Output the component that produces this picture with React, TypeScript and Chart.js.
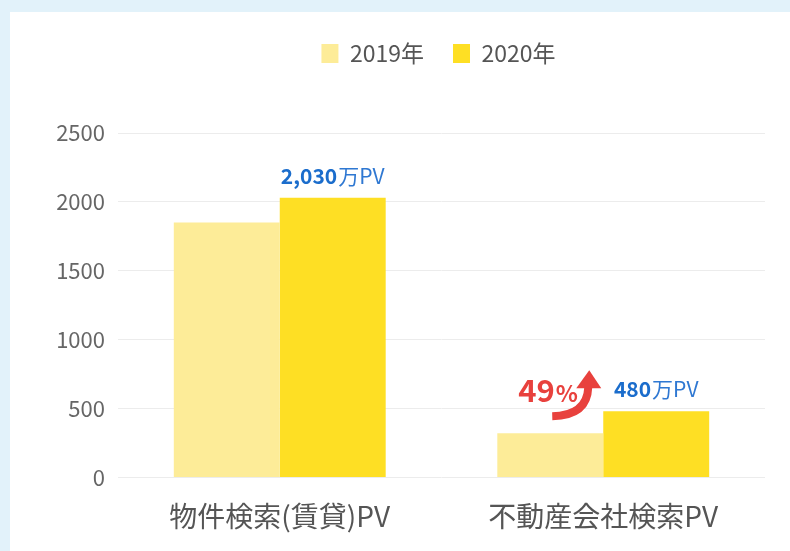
import React, { useEffect, useRef } from "react";
import { Chart, registerables } from "chart.js";

Chart.register(...registerables);

const categories = ["物件検索(賃貸)PV", "不動産会社検索PV"];
const seriesNames = ["2019年", "2020年"];
const values2019 = [1850, 320];
const values2020 = [2030, 480];
const yTicks = [0, 500, 1000, 1500, 2000, 2500];
const valueSuffix = "万PV";
const growthNumber = "49";
const growthUnit = "%";

const FONT = '"Noto Sans CJK JP", "Noto Sans", sans-serif';
const COLOR_2019 = "#fdec98";
const COLOR_2020 = "#fedf24";
const BLUE = "#1b6dcc";
const RED = "#e8413d";

const legendSpace = {
  id: "legendSpace",
  beforeLayout(chart: any) {
    const lg = chart.legend;
    if (lg && !lg.__patched) {
      const orig = lg.fit.bind(lg);
      lg.fit = function () {
        orig();
        this.height = 120;
      };
      lg.__patched = true;
    }
  },
  afterLayout(chart: any) {
    const lg = chart.legend;
    if (lg) {
      // centre the legend over the plot area rather than the whole canvas
      const ca = chart.chartArea;
      const shift = (ca.left + ca.right) / 2 - (lg.left + lg.right) / 2;
      lg.left += shift * 2 - 6;
    }
  },
};

const annotate = {
  id: "annotate",
  afterDatasetsDraw(chart: any) {
    const ctx = chart.ctx as CanvasRenderingContext2D;
    const m0 = chart.getDatasetMeta(0);
    const m1 = chart.getDatasetMeta(1);
    ctx.save();
    ctx.textBaseline = "middle";
    ctx.textAlign = "left";
    m1.data.forEach((bar: any, i: number) => {
      const num = values2020[i].toLocaleString("en-US");
      const bold = `bold 21px ${FONT}`;
      const normal = `21px ${FONT}`;
      ctx.font = bold;
      const w1 = ctx.measureText(num).width;
      ctx.font = normal;
      const w2 = ctx.measureText(valueSuffix).width;
      const x0 = bar.x - (w1 + w2 + 1) / 2;
      const y = bar.y - 22;
      ctx.fillStyle = BLUE;
      ctx.font = bold;
      ctx.fillText(num, x0, y);
      ctx.font = normal;
      ctx.fillStyle = "#2f78d2";
      ctx.fillText(valueSuffix, x0 + w1 + 1, y);
    });

    // growth arrow between the second group's bars
    const b19 = m0.data[1];
    const b20 = m1.data[1];
    const X = b20.x - b20.width / 2;
    const Y = b19.y;
    ctx.strokeStyle = RED;
    ctx.fillStyle = RED;
    ctx.lineWidth = 8;
    ctx.lineCap = "butt";
    ctx.beginPath();
    ctx.moveTo(X - 51, Y - 17);
    ctx.quadraticCurveTo(X - 16, Y - 18, X - 15, Y - 46);
    ctx.stroke();
    ctx.beginPath();
    ctx.moveTo(X - 14, Y - 63);
    ctx.lineTo(X - 27, Y - 45);
    ctx.lineTo(X - 2, Y - 45);
    ctx.closePath();
    ctx.fill();

    ctx.textBaseline = "alphabetic";
    ctx.font = `bold 31px ${FONT}`;
    const gx = X - 85;
    const gy = Y - 31;
    ctx.fillText(growthNumber, gx, gy);
    const gw = ctx.measureText(growthNumber).width;
    ctx.font = `bold 23px ${FONT}`;
    ctx.fillText(growthUnit, gx + gw + 1, gy);
    ctx.restore();
  },
};

export default function App() {
  const ref = useRef<HTMLCanvasElement | null>(null);
  useEffect(() => {
    if (!ref.current) return;
    const chart = new Chart(ref.current, {
      type: "bar",
      data: {
        labels: categories,
        datasets: [
          {
            label: seriesNames[0],
            data: values2019,
            backgroundColor: COLOR_2019,
            categoryPercentage: 0.655,
            barPercentage: 1,
          },
          {
            label: seriesNames[1],
            data: values2020,
            backgroundColor: COLOR_2020,
            categoryPercentage: 0.655,
            barPercentage: 1,
          },
        ],
      },
      options: {
        responsive: false,
        animation: false,
        layout: { padding: { top: 13, right: 25, bottom: 4, left: 0 } },
        plugins: {
          legend: {
            display: true,
            position: "top",
            labels: {
              boxWidth: 17,
              boxHeight: 19,
              padding: 29,
              color: "#555555",
              font: { family: FONT, size: 23 },
            },
          },
          tooltip: { enabled: false },
        },
        scales: {
          x: {
            grid: { display: false },
            border: { display: false },
            ticks: {
              color: "#555555",
              padding: 14,
              font: { family: FONT, size: 28 },
            },
          },
          y: {
            min: 0,
            max: 2500,
            afterBuildTicks: (s: any) => {
              s.ticks = yTicks.map((v) => ({ value: v }));
            },
            afterFit: (s: any) => {
              s.width = 118;
            },
            grid: { color: "#ececec", drawTicks: false, lineWidth: 1 },
            border: { display: false },
            ticks: {
              color: "#666666",
              padding: 13,
              font: { family: FONT, size: 22 },
              callback: (v: any) => String(v),
            },
          },
        },
      },
      plugins: [legendSpace, annotate],
    });
    return () => chart.destroy();
  }, []);

  return (
    <div
      style={{
        position: "fixed",
        left: 0,
        top: 0,
        width: 790,
        height: 551,
        background: "#e2f2fa",
        overflow: "hidden",
      }}
    >
      <div
        style={{
          position: "absolute",
          left: 10,
          top: 12,
          right: 0,
          bottom: 0,
          background: "#ffffff",
        }}
      />
      <canvas
        ref={ref}
        width={790}
        height={551}
        style={{ position: "absolute", left: 0, top: 0, display: "block" }}
      />
    </div>
  );
}
